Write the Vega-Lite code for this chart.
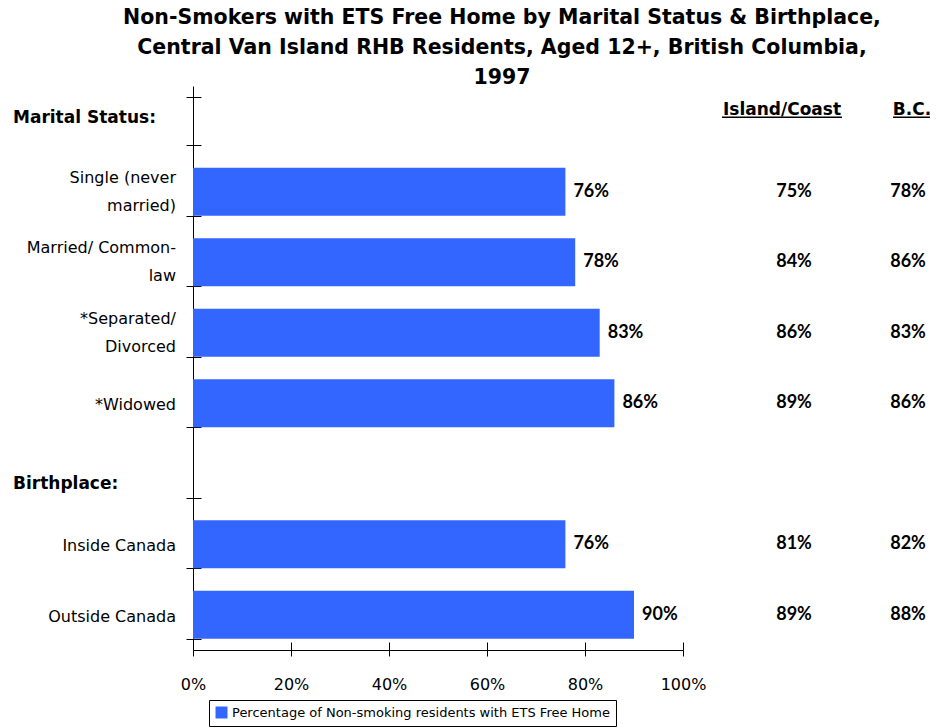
{
  "$schema": "https://vega.github.io/schema/vega-lite/v6.json",
  "width": 490,
  "height": 564,
  "autosize": "none",
  "padding": {"left": 193, "top": 86, "right": 255, "bottom": 78},
  "background": "white",
  "config": {"view": {"stroke": null}, "font": "DejaVu Sans"},
  "title": {
    "text": ["Non-Smokers with ETS Free Home by Marital Status & Birthplace,", "Central Van Island RHB Residents, Aged 12+, British Columbia,", "1997"],
    "font": "DejaVu Sans",
    "fontSize": 20.5,
    "fontWeight": "bold",
    "lineHeight": 30,
    "anchor": "middle",
    "dx": 64,
    "offset": -2,
    "color": "black"
  },
  "datasets": {
    "bars": [
      {"cat": "Single (never|married)", "pct": 0.76, "island": 0.75, "bc": 0.78},
      {"cat": "Married/ Common-|law", "pct": 0.78, "island": 0.84, "bc": 0.86},
      {"cat": "*Separated/|Divorced", "pct": 0.83, "island": 0.86, "bc": 0.83},
      {"cat": "*Widowed", "pct": 0.86, "island": 0.89, "bc": 0.86},
      {"cat": "Inside Canada", "pct": 0.76, "island": 0.81, "bc": 0.82},
      {"cat": "Outside Canada", "pct": 0.90, "island": 0.89, "bc": 0.88}
    ],
    "headers": [
      {"cat": "Marital Status:", "col1": "Island/Coast", "col2": "B.C."},
      {"cat": "Birthplace:"}
    ]
  },
  "layer": [
    {
      "data": {"name": "bars"},
      "mark": {"type": "bar", "color": "#3366FF"},
      "encoding": {
        "y": {
          "field": "cat", "type": "nominal",
          "scale": {
            "domain": ["Marital Status:", "Single (never|married)", "Married/ Common-|law", "*Separated/|Divorced", "*Widowed", "Birthplace:", "Inside Canada", "Outside Canada"],
            "paddingInner": 0.32, "paddingOuter": 0.16
          },
          "axis": {
            "title": null, "orient": "left", "tickBand": "extent", "tickSize": 7,
            "labels": false,
            "domainColor": "black", "tickColor": "black", "grid": false
          }
        },
        "x": {
          "field": "pct", "type": "quantitative",
          "scale": {"domain": [0, 1]},
          "axis": {
            "title": null, "orient": "bottom", "values": [0, 0.2, 0.4, 0.6, 0.8, 1], "format": ".0%",
            "tickSize": 6, "labelPadding": 20, "grid": false, "labelFlush": false,
            "labelFont": "DejaVu Sans", "labelFontSize": 16, "labelColor": "black",
            "domainColor": "black", "tickColor": "black"
          }
        },
        "color": {
          "datum": "Percentage of Non-smoking residents with ETS Free Home",
          "scale": {"range": ["#3366FF"]},
          "legend": {
            "title": null, "orient": "none", "legendX": 16, "legendY": 614,
            "strokeColor": "black", "fillColor": "white", "padding": 6,
            "symbolType": "square", "symbolSize": 144, "symbolStrokeWidth": 0,
            "labelFont": "DejaVu Sans", "labelFontSize": 13, "labelColor": "black", "labelLimit": 600
          }
        }
      }
    },
    {
      "data": {"name": "bars"},
      "mark": {"type": "text", "align": "left", "baseline": "middle", "dx": 8, "font": "Lato", "fontWeight": "bold", "fontSize": 18, "color": "black"},
      "encoding": {
        "y": {
          "field": "cat", "type": "nominal",
          "axis": {"title": null, "orient": "left", "tickBand": "extent", "tickSize": -8, "labels": false, "domain": false, "tickColor": "black", "grid": false}
        },
        "x": {
          "field": "pct", "type": "quantitative",
          "axis": {"title": null, "orient": "bottom", "values": [0, 0.2, 0.4, 0.6, 0.8, 1], "tickSize": -8, "labels": false, "domain": false, "tickColor": "black", "grid": false}
        },
        "text": {"field": "pct", "type": "quantitative", "format": ".0%"}
      }
    },
    {
      "data": {"name": "bars"},
      "transform": [{"filter": "indexof(datum.cat, '|') >= 0"}],
      "mark": {"type": "text", "align": "right", "baseline": "middle", "dx": -17, "dy": -14, "lineBreak": "|", "lineHeight": 28, "font": "DejaVu Sans", "fontSize": 16, "color": "black"},
      "encoding": {
        "y": {"field": "cat", "type": "nominal", "axis": null},
        "x": {"datum": 0, "type": "quantitative", "axis": null},
        "text": {"field": "cat"}
      }
    },
    {
      "data": {"name": "bars"},
      "transform": [{"filter": "indexof(datum.cat, '|') < 0"}],
      "mark": {"type": "text", "align": "right", "baseline": "middle", "dx": -17, "dy": 2, "font": "DejaVu Sans", "fontSize": 16, "color": "black"},
      "encoding": {
        "y": {"field": "cat", "type": "nominal", "axis": null},
        "x": {"datum": 0, "type": "quantitative", "axis": null},
        "text": {"field": "cat"}
      }
    },
    {
      "data": {"name": "bars"},
      "mark": {"type": "text", "align": "center", "baseline": "middle", "dx": 111, "font": "Lato", "fontWeight": "bold", "fontSize": 18, "color": "black"},
      "encoding": {
        "y": {"field": "cat", "type": "nominal", "axis": null},
        "x": {"datum": 1, "type": "quantitative", "axis": null},
        "text": {"field": "island", "type": "quantitative", "format": ".0%"}
      }
    },
    {
      "data": {"name": "bars"},
      "mark": {"type": "text", "align": "center", "baseline": "middle", "dx": 225, "font": "Lato", "fontWeight": "bold", "fontSize": 18, "color": "black"},
      "encoding": {
        "y": {"field": "cat", "type": "nominal", "axis": null},
        "x": {"datum": 1, "type": "quantitative", "axis": null},
        "text": {"field": "bc", "type": "quantitative", "format": ".0%"}
      }
    },
    {
      "data": {"name": "headers"},
      "transform": [{"filter": "datum.cat == 'Marital Status:'"}],
      "mark": {"type": "text", "align": "left", "baseline": "middle", "dx": -180, "dy": -3, "font": "DejaVu Sans", "fontWeight": "bold", "fontSize": 17, "color": "black"},
      "encoding": {
        "y": {"field": "cat", "type": "nominal", "axis": null},
        "x": {"datum": 0, "type": "quantitative", "axis": null},
        "text": {"field": "cat"}
      }
    },
    {
      "data": {"name": "headers"},
      "transform": [{"filter": "datum.cat == 'Marital Status:'"}],
      "mark": {"type": "text", "align": "center", "baseline": "middle", "dx": 99, "dy": -11, "font": "DejaVu Sans", "fontWeight": "bold", "fontSize": 17, "color": "black"},
      "encoding": {
        "y": {"field": "cat", "type": "nominal", "axis": null},
        "x": {"datum": 1, "type": "quantitative", "axis": null},
        "text": {"field": "col1"}
      }
    },
    {
      "data": {"name": "headers"},
      "transform": [{"filter": "datum.cat == 'Marital Status:'"}],
      "mark": {"type": "text", "align": "center", "baseline": "middle", "dx": 229, "dy": -11, "font": "DejaVu Sans", "fontWeight": "bold", "fontSize": 17, "color": "black"},
      "encoding": {
        "y": {"field": "cat", "type": "nominal", "axis": null},
        "x": {"datum": 1, "type": "quantitative", "axis": null},
        "text": {"field": "col2"}
      }
    },
    {
      "data": {"name": "headers"},
      "transform": [{"filter": "datum.cat == 'Marital Status:'"}],
      "mark": {"type": "rule", "color": "black", "strokeWidth": 1.5, "xOffset": 39, "x2Offset": 159, "yOffset": -4},
      "encoding": {
        "y": {"field": "cat", "type": "nominal", "axis": null},
        "x": {"datum": 1, "type": "quantitative", "axis": null},
        "x2": {"datum": 1}
      }
    },
    {
      "data": {"name": "headers"},
      "transform": [{"filter": "datum.cat == 'Marital Status:'"}],
      "mark": {"type": "rule", "color": "black", "strokeWidth": 1.5, "xOffset": 210, "x2Offset": 247, "yOffset": -4},
      "encoding": {
        "y": {"field": "cat", "type": "nominal", "axis": null},
        "x": {"datum": 1, "type": "quantitative", "axis": null},
        "x2": {"datum": 1}
      }
    },
    {
      "data": {"name": "headers"},
      "transform": [{"filter": "datum.cat == 'Birthplace:'"}],
      "mark": {"type": "text", "align": "left", "baseline": "middle", "dx": -180, "dy": 10, "font": "DejaVu Sans", "fontWeight": "bold", "fontSize": 17, "color": "black"},
      "encoding": {
        "y": {"field": "cat", "type": "nominal", "axis": null},
        "x": {"datum": 0, "type": "quantitative", "axis": null},
        "text": {"field": "cat"}
      }
    }
  ],
  "resolve": {"axis": {"x": "independent", "y": "independent"}}
}
